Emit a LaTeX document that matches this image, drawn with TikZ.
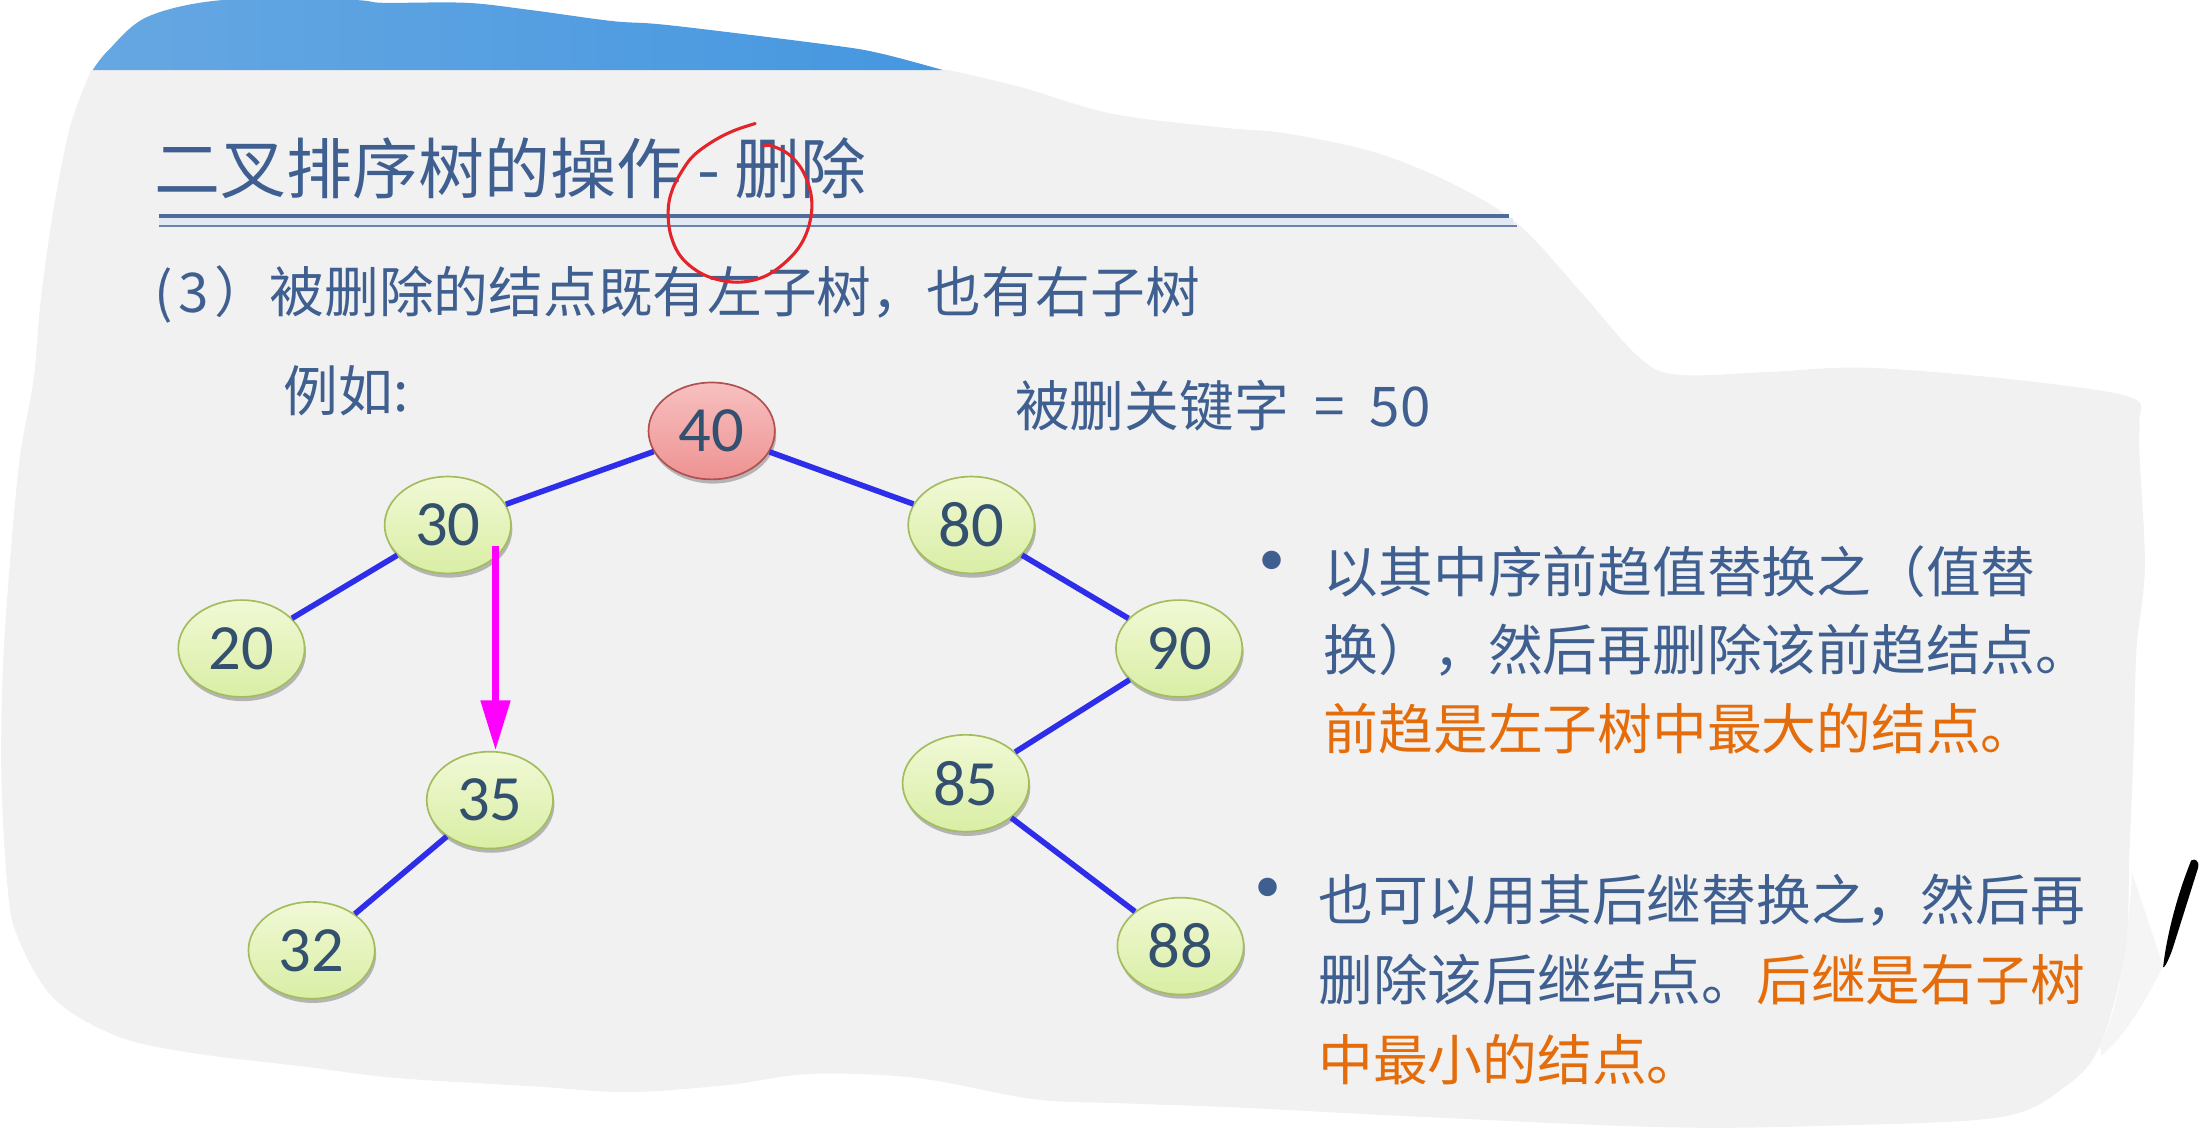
\documentclass[tikz,border=0pt]{standalone}
\usepackage{fontspec}
\setmainfont{Noto Sans CJK SC}
\newfontfamily\numfont{Carlito}
\usetikzlibrary{shapes.geometric,arrows.meta,shadows,calc}
\definecolor{bggray}{HTML}{F1F1F1}
\definecolor{tblue}{HTML}{3E5F8F}
\definecolor{orng}{HTML}{E46C0A}
\definecolor{eblue}{HTML}{2E2EEA}
\definecolor{ntext}{HTML}{34506F}
\definecolor{gtop}{HTML}{F1F9D6}
\definecolor{gbot}{HTML}{D9EEA4}
\definecolor{gborder}{HTML}{A3BD5E}
\definecolor{rtop}{HTML}{F8C0C0}
\definecolor{rbot}{HTML}{EE9292}
\definecolor{rborder}{HTML}{B05050}
\definecolor{bandL}{HTML}{66A7E2}
\definecolor{bandM}{HTML}{5CA4E5}
\definecolor{bandR}{HTML}{4597E0}
\definecolor{lineA}{HTML}{4E6C99}
\definecolor{lineB}{HTML}{6A84AA}
\definecolor{lineC}{HTML}{E2E9F3}
\definecolor{redpen}{HTML}{E3242B}
\definecolor{magpen}{HTML}{FF00FF}
\newcommand\fsz[1]{\fontsize{#1pt}{#1pt}\selectfont}
\begin{document}
\begin{tikzpicture}[x=1pt,y=-1pt,
  txt/.style={anchor=base west, inner sep=0pt, text=tblue, font=\fsz{39}},
  gnode/.style={ellipse, minimum width=90pt, minimum height=69pt, inner sep=0pt,
    draw=gborder, line width=1.2pt, top color=gtop, bottom color=gbot,
    font=\numfont\fsz{46}, text=ntext,
    drop shadow={shadow xshift=1pt, shadow yshift=-3pt, opacity=0.25, fill=black}},
  rnode/.style={gnode, draw=rborder, top color=rtop, bottom color=rbot},
  tedge/.style={line width=4pt, draw=eblue},
  marrow/.style={line width=5.5pt, draw=magpen, -{Triangle[length=36pt,width=20pt]}},
  bul/.style={inner sep=0pt, text=tblue, font=\fsz{62}}
]
\useasboundingbox (0,0) rectangle (1568,805);
\fill[white] (0,0) rectangle (1568,805);

% gray slide blob
\fill[bggray] (65,50) -- (676,50) -- plot[smooth, tension=0.55] coordinates {
 (676,50) (727,62) (792,81) (872,91) (916,95) (981,109) (1039,133) (1083,161)
 (1127,209) (1167,254) (1195,267) (1260,265) (1331,262) (1440,271) (1518,283)
 (1524,300) (1524,321) (1528,404) (1522,463) (1520,534) (1517,606) (1514,677)
 (1496,745) (1470,775) (1424,796) (1300,802) (1184,803) (1000,795) (883,789)
 (800,786) (736,783) (654,768) (578,765) (518,773) (447,778) (382,774) (283,768)
 (218,760) (136,750) (83,738) (38,711) (12,666) (5,628) (1,553) (2,477) (7,402)
 (14,327) (24,270) (29,214) (38,150) (50,90) (65,50)} -- cycle;

% blue band at the top
\shade[left color=bandL, middle color=bandM, right color=bandR]
 (66,50) -- plot[smooth, tension=0.55] coordinates {
 (66,50) (77,36) (105,12) (159,0) (250,0) (273,2) (332,2) (377,7) (436,15)
 (477,18) (591,32) (627,38) (672,50)} -- cycle;

% light sliver and black pen stroke at the right
\fill[white!93!black, opacity=0.5] (1519,622) -- (1541,688) .. controls (1528,715) and (1512,740) .. (1497,752) -- (1496,745) .. controls (1508,720) and (1514,690) .. cycle;
\fill[black] (1561,613) .. controls (1564,611) and (1567,614) .. (1566,618)
  -- (1549,672) .. controls (1546,682) and (1542,690) .. (1541,689)
  .. controls (1543,670) and (1550,640) .. cycle;

% title
\node[anchor=base west, inner sep=0pt, text=tblue, font=\fsz{47}] (title) at (110,138) {二叉排序树的操作 - 删除};
\coordinate (ulL) at (113,154);
\coordinate (ulR) at (1075,154);
\fill[lineC] (113,155.5) rectangle (1078,160.5);
\draw[line width=3pt, lineA] (ulL) -- (ulR);
\draw[line width=1.3pt, lineB] (113,161) -- (1081,161);

% subtitle and labels
\node[txt] (sub) at (110,222.5) {(\hspace{4pt}3\hspace{4pt}）被删除的结点既有左子树，也有右子树};
\node[txt] (eg) at (202,293) {例如:};
\node[txt] (key) at (723,303.5) {被删关键字\hspace{18pt}=\hspace{18pt}50};

% bullets
\node[bul] (dot1) at (906,408) {•};
\node[txt] (b1a) at (943,422) {以其中序前趋值替换之（值替};
\node[txt] (b1b) at (943,478) {换），然后再删除该前趋结点。};
\node[txt, text=orng] (b1c) at (943,534) {前趋是左子树中最大的结点。};
\node[bul] (dot2) at (903,641) {•};
\node[txt] (b2a) at (939,656) {也可以用其后继替换之，然后再};
\node[txt] (b2b) at (939,713) {删除该后继结点。\textcolor{orng}{后继是右子树}};
\node[txt, text=orng] (b2c) at (939,770) {中最小的结点。};

% tree nodes
\node[rnode] (n40) at (507,307) {40};
\node[gnode] (n30) at (319,374) {30};
\node[gnode] (n20) at (172,462) {20};
\node[gnode] (n35) at (349,570) {35};
\node[gnode] (n32) at (222,677) {32};
\node[gnode] (n80) at (692,374) {80};
\node[gnode] (n90) at (840,462) {90};
\node[gnode] (n85) at (688,558) {85};
\node[gnode] (n88) at (841,674) {88};

% tree edges
\draw[tedge] (n40) -- (n30);
\draw[tedge] (n40) -- (n80);
\draw[tedge] (n30) -- (n20);
\draw[tedge] (n80) -- (n90);
\draw[tedge] (n90) -- (n85);
\draw[tedge] (n85) -- (n88);
\draw[tedge] (n35) -- (n32);

% magenta arrow from 30 down to 35
\coordinate (astart) at ($(n30.center)+(34,15)$);
\draw[marrow] (astart) -- (astart |- n35.north);

% red hand-drawn circle
\draw[redpen, line width=2.2pt, line cap=round, line join=round]
 plot[smooth, tension=0.6] coordinates {
 (538,88) (523,93) (509,100) (495,110) (487,120) (479,135) (476,150) (478,168)
 (486,184) (502,196) (523,201) (542,198) (557,189) (570,175) (577,158) (578,140)
 (572,122) (562,110) (550,104) (544,104)};
\end{tikzpicture}
\end{document}
